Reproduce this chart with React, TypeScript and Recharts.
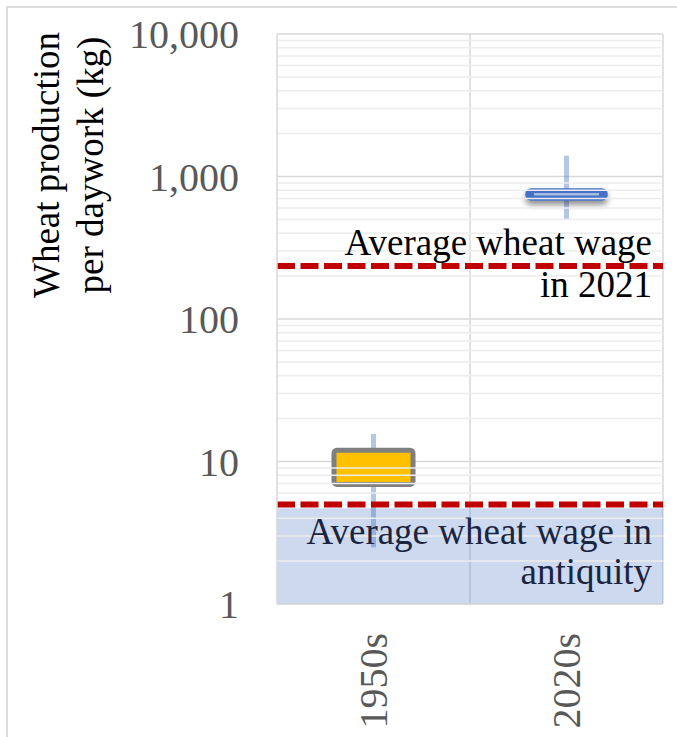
import {
  Bar,
  CartesianGrid,
  ComposedChart,
  ReferenceArea,
  ReferenceLine,
  XAxis,
  YAxis,
} from "recharts";

const categories = ["1950s", "2020s"];
const whiskerLow = [2.5, 500];
const whiskerHigh = [15.6, 1400];
const quartileLow = [6.9, 695];
const quartileHigh = [12, 805];
const medians: (number | null)[] = [null, 750];

const yTicks = [1, 10, 100, 1000, 10000];
const minorSteps = [2, 3, 4, 5, 6, 7, 8, 9];

const wage2021 = 235;
const wageAntiquity = 5;
const antiquityBandTop = 4.7;

const data = categories.map((cat, i) => ({
  cat,
  whisker: [whiskerLow[i], whiskerHigh[i]],
  box: [quartileLow[i], quartileHigh[i]],
  median: medians[i],
}));

const minorGrid = yTicks.slice(0, -1).flatMap((d) => minorSteps.map((s) => s * d));

const serif = { fontFamily: "'Liberation Serif', 'Times New Roman', serif" };

function BoxShape(props: any) {
  const { x, y, width, height, payload } = props;
  if (payload.median != null) {
    const [lo, hi] = payload.box;
    const my =
      y + (height * (Math.log(hi) - Math.log(payload.median))) / (Math.log(hi) - Math.log(lo));
    return (
      <g>
        <defs>
          <filter id="boxShadow" x="-20%" y="-100%" width="140%" height="400%">
            <feDropShadow dx="0" dy="4" stdDeviation="3" floodColor="#000" floodOpacity="0.45" />
          </filter>
        </defs>
        <rect
          x={x}
          y={y}
          width={width}
          height={height}
          rx={4}
          fill="#4472c4"
          stroke="#4472c4"
          strokeWidth={3.5}
          filter="url(#boxShadow)"
        />
        <line x1={x + 7} x2={x + width - 7} y1={my} y2={my} stroke="#a6bde6" strokeWidth={2.5} />
      </g>
    );
  }
  return (
    <rect x={x} y={y} width={width} height={height} rx={3} fill="#ffc000" stroke="#7f7f7f" strokeWidth={5} />
  );
}

function WhiskerShape(props: any) {
  const { x, y, width, height } = props;
  return <rect x={x} y={y} width={width} height={height} fill="#4472c4" fillOpacity={0.4} />;
}

function YTick({ x, y, payload }: any) {
  return (
    <text x={x} y={y} dy="0.35em" textAnchor="end" fill="#595959" fontSize={40} style={serif}>
      {Number(payload.value).toLocaleString("en-US")}
    </text>
  );
}

function XTick({ x, y, payload }: any) {
  return (
    <text
      x={x}
      y={y}
      dy="0.34em"
      textAnchor="end"
      fill="#595959"
      fontSize={40}
      style={serif}
      transform={`rotate(-90, ${x}, ${y})`}
    >
      {payload.value}
    </text>
  );
}

function YTitle({ viewBox }: any) {
  const cy = viewBox.y + 131;
  const lines = [
    { text: "Wheat production", bx: viewBox.x + 51 },
    { text: "per daywork (kg)", bx: viewBox.x + 95 },
  ];
  return (
    <g>
      {lines.map((l) => (
        <text
          key={l.text}
          x={l.bx}
          y={cy}
          textAnchor="middle"
          fill="#000"
          fontSize={37}
          style={serif}
          transform={`rotate(-90, ${l.bx}, ${cy})`}
        >
          {l.text}
        </text>
      ))}
    </g>
  );
}

function note(lines: string[], offsets: number[], color: string) {
  return ({ viewBox }: any) => {
    const rx = viewBox.x + viewBox.width - 11;
    return (
      <g>
        {lines.map((t, i) => (
          <text
            key={t}
            x={rx}
            y={viewBox.y + offsets[i]}
            textAnchor="end"
            fill={color}
            fontSize={37}
            style={serif}
          >
            {t}
          </text>
        ))}
      </g>
    );
  };
}

export default function App() {
  return (
    <div
      style={{
        position: "absolute",
        left: 6,
        top: 6,
        width: 671,
        height: 731,
        borderLeft: "2px solid #dcdcdc",
        borderTop: "2px solid #dcdcdc",
        overflow: "hidden",
        background: "#fff",
      }}
    >
      <ComposedChart
        width={669}
        height={729}
        data={data}
        margin={{ top: 26, right: 14, bottom: 0, left: 0 }}
        barGap={0}
      >
        <CartesianGrid
          stroke="#d9d9d9"
          strokeWidth={1.5}
          verticalCoordinatesGenerator={({ offset }: any) => [
            offset.left + offset.width / 2,
            offset.left + offset.width,
          ]}
        />
        {minorGrid.map((v) => (
          <ReferenceLine key={v} y={v} stroke="#ededed" strokeWidth={1.5} />
        ))}
        <XAxis
          dataKey="cat"
          height={133}
          tickSize={0}
          tickMargin={29}
          axisLine={{ stroke: "#d9d9d9", strokeWidth: 1.5 }}
          tickLine={false}
          tick={<XTick />}
          interval={0}
        />
        <XAxis dataKey="cat" xAxisId="wh" hide />
        <YAxis
          scale="log"
          domain={[1, 10000]}
          ticks={yTicks}
          allowDataOverflow
          width={269}
          tickSize={0}
          tickMargin={38}
          axisLine={{ stroke: "#d9d9d9", strokeWidth: 1.5 }}
          tickLine={false}
          tick={<YTick />}
          interval={0}
          label={(p: any) => <YTitle {...p} />}
        />
        <ReferenceArea
          y1={1}
          y2={antiquityBandTop}
          fill="#4472c4"
          fillOpacity={0.27}
          stroke="none"
          ifOverflow="hidden"
        />
        <Bar
          dataKey="whisker"
          xAxisId="wh"
          barSize={5}
          shape={<WhiskerShape />}
          isAnimationActive={false}
        />
        <Bar dataKey="box" barSize={79} shape={<BoxShape />} isAnimationActive={false} />
        <ReferenceLine
          y={wage2021}
          stroke="#c00000"
          strokeWidth={6}
          strokeDasharray="18 5.5"
          label={note(["Average wheat wage", "in 2021"], [-11, 31], "#000")}
        />
        <ReferenceLine
          y={wageAntiquity}
          stroke="#c00000"
          strokeWidth={6}
          strokeDasharray="18 5.5"
          label={note(["Average wheat wage in", "antiquity"], [40, 80], "#1b2440")}
        />
      </ComposedChart>
    </div>
  );
}
